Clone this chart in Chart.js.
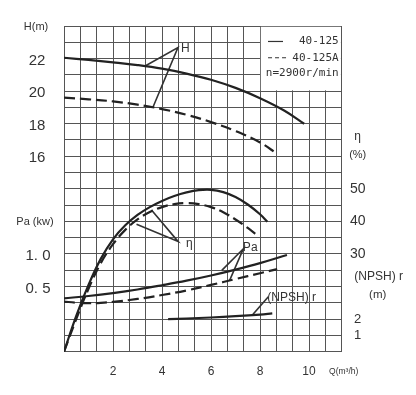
<!DOCTYPE html>
<html><head><meta charset="utf-8">
<script src="https://cdn.jsdelivr.net/npm/chart.js@4/dist/chart.umd.min.js"></script>
<style>html,body{margin:0;padding:0;background:#fff;}#wrap{width:416px;height:395px;}</style>
</head><body><div id="wrap"><canvas id="c" width="416" height="395"></canvas></div>
<script>
// ---- data (Q in m3/h) ----
const qH = [0,1,2,3,4,5,6,7,8,9,9.8];
const hMain = [22.05,21.92,21.77,21.6,21.38,21.08,20.7,20.2,19.57,18.8,18.0];
const qHA = [0,1,2,3,4,5,6,7,8,8.7];
const hA = [19.6,19.5,19.37,19.17,18.9,18.55,18.1,17.55,16.85,16.15];
const qEta = [0,0.5,1,1.5,2,2.5,3,3.5,4,4.5,5,5.5,6,6.5,7,7.5,8,8.3];
const etaMain = [0,11,20.5,28.5,34.5,38.8,42,44.4,46.3,47.8,48.9,49.6,49.7,49,47.5,45.2,42.2,39.9];
const qEtaA = [0,0.5,1,1.5,2,2.5,3,3.5,4,4.5,5,5.5,6,6.5,7,7.5,7.95];
const etaA = [0,10,19.3,27.2,33,37.4,40.6,42.9,44.4,45.3,45.6,45.3,44.4,42.8,40.6,38,35.3];
const qPa = [0,1,2,3,4,5,6,7,8,9.1];
const paMain = [0.32,0.355,0.40,0.455,0.52,0.59,0.67,0.76,0.86,0.985];
const qPaA = [0,0.5,1,1.5,2,3,4,5,6,7,8,8.7];
const paA = [0.27,0.252,0.245,0.25,0.265,0.31,0.37,0.44,0.525,0.615,0.705,0.767];
const qNpsh = [4.25,5,6,7,8,8.5];
const npsh = [2.0,2.04,2.1,2.18,2.28,2.35];

// leader lines of the curve labels (data units)
const leadH = {q:[3.33,4.65,3.63], v:[21.56,22.67,19.01]};
const leadEta = {q:[2.96,4.66,3.57], v:[39.1,33.8,43.5]};
const leadPa = {q:[6.44,7.32,6.76], v:[0.748,1.08,0.595]};
const leadN = {q:[7.67,8.34], v:[2.22,3.38]};

// tick labels
const hTicks = [16,18,20,22];
const paTicks = [0.5,1.0];
const paTickText = ['0. 5','1. 0'];
const etaTicks = [30,40,50];
const npshTicks = [1,2];
const qTicks = [2,4,6,8,10];
const legendText = ['40-125','40-125A','n=2900r/min'];

const pts = (xs, ys) => xs.map((x,i)=>({x:x, y:ys[i]}));
const INK = '#222';
const curve = (data, axis, dashed) => ({
  data, yAxisID: axis, borderColor: INK, borderWidth: 2.2, pointRadius: 0,
  fill: false, tension: 0.4, borderDash: dashed ? [11,5] : []
});
const lead = (o, axis) => ({
  data: pts(o.q, o.v), yAxisID: axis, borderColor: '#333', borderWidth: 1.6,
  pointRadius: 0, fill: false, tension: 0
});

const labelsPlugin = {
  id: 'labels',
  beforeDatasetsDraw(chart) {
    const {ctx, chartArea: a, scales: s} = chart;
    // blank legend panel
    const x0 = s.x.getPixelForValue(8), y1 = s.yN.getPixelForValue(16);
    ctx.save();
    ctx.fillStyle = '#fff';
    ctx.fillRect(x0 + 0.8, a.top + 0.8, a.right - x0 - 1.6, y1 - a.top - 1.6);
    ctx.restore();
  },
  afterDraw(chart) {
    const {ctx, chartArea: a, scales: s} = chart;
    ctx.save();
    ctx.fillStyle = '#333';
    ctx.textBaseline = 'middle';
    const F = (sz, fam) => ctx.font = sz + 'px ' + (fam || '"Liberation Sans", Arial, sans-serif');
    const t = (txt, x, y, al) => { ctx.textAlign = al || 'center'; ctx.fillText(txt, x, y); };
    const lx = a.left - 27;
    F(15);
    hTicks.forEach(v => t(String(v), lx, s.yH.getPixelForValue(v) + 2));
    paTickText.forEach((txt,i) => t(txt, lx + 1, s.yPa.getPixelForValue(paTicks[i]) + 2));
    F(11);
    t('H(m)', lx - 1, s.yH.getPixelForValue(24) + 1);
    t('Pa (kw)', lx - 2, s.yPa.getPixelForValue(1.5) + 1);
    const rx = a.right + 16;
    F(14);
    etaTicks.forEach(v => t(String(v), rx, s.yEta.getPixelForValue(v)));
    F(13);
    npshTicks.forEach(v => t(String(v), rx, s.yN.getPixelForValue(v)));
    F(12);
    t('η', rx, s.yEta.getPixelForValue(66));
    F(11);
    t('(%)', rx, s.yEta.getPixelForValue(60.5));
    F(12);
    t('(NPSH) r', rx + 21, s.yN.getPixelForValue(4.6));
    F(11.5);
    t('(m)', rx + 20, s.yN.getPixelForValue(3.5));
    F(12);
    qTicks.forEach(v => t(String(v), s.x.getPixelForValue(v), a.bottom + 20));
    F(8.5);
    t('Q(m³/h)', a.right + 2, a.bottom + 20);
    // curve names
    F(12);
    t('H', s.x.getPixelForValue(4.78), s.yH.getPixelForValue(22.6), 'left');
    t('η', s.x.getPixelForValue(4.98), s.yEta.getPixelForValue(33.2), 'left');
    t('Pa', s.x.getPixelForValue(7.3), s.yPa.getPixelForValue(1.1), 'left');
    t('(NPSH) r', s.x.getPixelForValue(8.3), s.yN.getPixelForValue(3.3), 'left');
    // legend
    ctx.font = '11px "DejaVu Sans Mono", monospace';
    const ly = [19.05, 18.05, 17.1].map(v => s.yN.getPixelForValue(v));
    legendText.forEach((txt,i) => t(txt, a.right - 3, ly[i], 'right'));
    ctx.strokeStyle = '#333'; ctx.lineWidth = 1.2;
    const kx = s.x.getPixelForValue(8) + 8;
    ctx.beginPath(); ctx.moveTo(kx, ly[0]); ctx.lineTo(kx + 15, ly[0]); ctx.stroke();
    ctx.setLineDash([4,3]);
    ctx.beginPath(); ctx.moveTo(kx, ly[1]); ctx.lineTo(kx + 19, ly[1]); ctx.stroke();
    ctx.restore();
  }
};

new Chart(document.getElementById('c'), {
  type: 'line',
  data: { datasets: [
    curve(pts(qH, hMain), 'yH', false),
    curve(pts(qHA, hA), 'yH', true),
    curve(pts(qEta, etaMain), 'yEta', false),
    curve(pts(qEtaA, etaA), 'yEta', true),
    curve(pts(qPa, paMain), 'yPa', false),
    curve(pts(qPaA, paA), 'yPa', true),
    curve(pts(qNpsh, npsh), 'yN', false),
    lead(leadH, 'yH'), lead(leadEta, 'yEta'), lead(leadPa, 'yPa'), lead(leadN, 'yN')
  ]},
  options: {
    responsive: false, animation: false, devicePixelRatio: 1,
    layout: { padding: { left: 64, top: 26, right: 74.3, bottom: 43.3 } },
    plugins: { legend: { display: false }, tooltip: { enabled: false } },
    scales: {
      x: { type: 'linear', min: 0, max: 34/3,
        afterBuildTicks: sc => { sc.ticks = Array.from({length: 18}, (_, i) => ({value: i * 2 / 3})); },
        ticks: { display: false }, grid: { color: '#555', lineWidth: 1, drawTicks: false },
        border: { color: '#555' } },
      yN: { type: 'linear', position: 'left', min: 0, max: 20,
        ticks: { display: false, stepSize: 1 }, grid: { color: '#555', lineWidth: 1, drawTicks: false },
        border: { color: '#555' } },
      yH: { type: 'linear', display: false, min: 4, max: 24 },
      yPa: { type: 'linear', display: false, min: -0.5, max: 4.5 },
      yEta: { type: 'linear', display: false, min: 0, max: 100 }
    }
  },
  plugins: [labelsPlugin]
});
</script></body></html>
